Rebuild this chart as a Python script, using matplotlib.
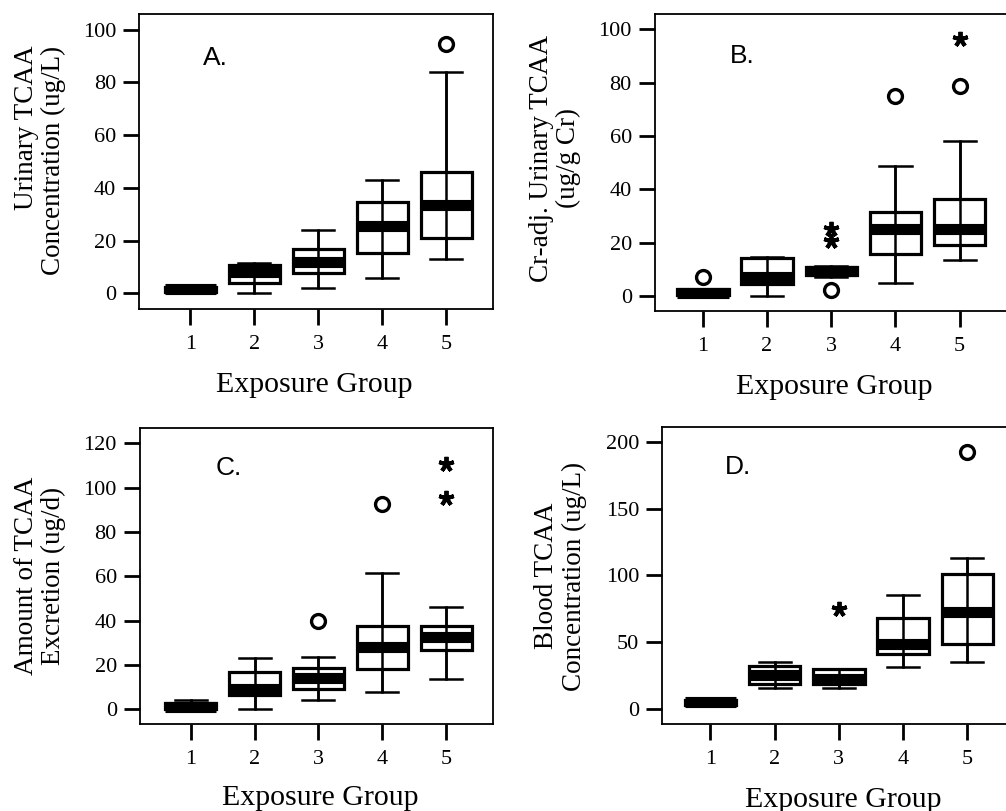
import matplotlib
matplotlib.use('Agg')
import matplotlib.pyplot as plt

plt.rcParams['font.family'] = ['Liberation Serif', 'DejaVu Serif']

groups = [1, 2, 3, 4, 5]

# panel A: urinary TCAA concentration (ug/L)
a_q1 = [0.5, 4, 7.5, 15.3, 21]
a_med = [1.5, 8, 12, 25.5, 33.5]
a_q3 = [2.5, 10.8, 16.7, 34.5, 46]
a_lo = [0, 0, 2, 5.6, 13]
a_hi = [3, 11.5, 24, 43, 84]
a_circ = [(5, 94.5)]
a_star = []

# panel B: Cr-adjusted urinary TCAA (ug/g Cr)
b_q1 = [0.3, 4.4, 7.8, 15.8, 19.1]
b_med = [1.3, 7, 9.5, 25, 25]
b_q3 = [2.5, 14.3, 11, 31.4, 36.3]
b_lo = [0, 0, 7, 5, 13.5]
b_hi = [2.7, 14.5, 11.2, 48.7, 58.2]
b_circ = [(1, 7), (3, 2.2), (4, 75), (5, 78.7)]
b_star = [(3, 25), (3, 20.7), (5, 96.6)]

# panel C: amount of TCAA excretion (ug/d)
c_q1 = [0.3, 6.5, 9.3, 18.2, 26.8]
c_med = [1.2, 9, 14.3, 28.3, 32.5]
c_q3 = [2.8, 17, 18.8, 37.7, 37.7]
c_lo = [0, 0, 4.2, 7.8, 13.5]
c_hi = [4, 23.3, 23.6, 61.7, 46.2]
c_circ = [(3, 39.8), (4, 92.5)]
c_star = [(5, 110.5), (5, 95.2)]

# panel D: blood TCAA concentration (ug/L)
d_q1 = [3, 18.5, 19, 40.9, 49]
d_med = [5, 25.4, 22.4, 49, 72.3]
d_q3 = [7, 32.4, 30, 67.8, 100.7]
d_lo = [2.5, 16, 16, 31.7, 35]
d_hi = [7.5, 35, 30, 85.3, 112.7]
d_circ = [(5, 192)]
d_star = [(3, 74.8)]

W, H = 1006, 811
fig = plt.figure(figsize=(W / 100, H / 100), dpi=100)


def make_ax(left, top, right, bottom):
    return fig.add_axes([left / W, 1 - bottom / H, (right - left) / W, (bottom - top) / H])


def draw_panel(ax, q1, med, q3, lo, hi, circ, star, xlim, ylim, yticks, letter, lpos):
    stats = []
    for i in range(5):
        stats.append({'q1': q1[i], 'med': med[i], 'q3': q3[i],
                      'whislo': lo[i], 'whishi': hi[i], 'fliers': []})
    ax.bxp(stats, positions=groups, widths=0.8, patch_artist=True,
           showfliers=False,
           boxprops=dict(facecolor='white', edgecolor='black', linewidth=2.3),
           medianprops=dict(color='black', linewidth=8, solid_capstyle='butt'),
           whiskerprops=dict(color='black', linewidth=1.8),
           capprops=dict(color='black', linewidth=1.8),
           capwidths=0.5, zorder=2)
    ax.vlines(groups, lo, hi, color='black', linewidth=1.8, zorder=2.5)
    if circ:
        ax.plot([p[0] for p in circ], [p[1] for p in circ], 'o', ms=10,
                mfc='none', mec='black', mew=2.4, zorder=4, clip_on=False)
    if star:
        ax.plot([p[0] for p in star], [p[1] for p in star], marker=(5, 2, 0),
                ls='none', ms=11, mec='black', mew=2.8, zorder=4, clip_on=False)
    ax.set_xlim(*xlim)
    ax.set_ylim(*ylim)
    ax.set_xticks(groups)
    ax.set_xticklabels([str(g) for g in groups])
    ax.set_yticks(yticks)
    ax.tick_params(direction='out', length=11.5, width=2, labelsize=16, pad=5)
    ax.tick_params(axis='x', pad=7)
    for s in ax.spines.values():
        s.set_linewidth(1.3)
    ax.text(lpos[0], lpos[1], letter, ha='left', va='center', fontsize=19,
            family='Liberation Sans')


axA = make_ax(139, 14, 493, 309)
draw_panel(axA, a_q1, a_med, a_q3, a_lo, a_hi, a_circ, a_star,
           (0.2, 5.73), (-6, 106), [0, 20, 40, 60, 80, 100], 'A.', (1.2, 89.4))
axB = make_ax(654.7, 14, 1007.8, 311)
draw_panel(axB, b_q1, b_med, b_q3, b_lo, b_hi, b_circ, b_star,
           (0.25, 5.75), (-5.6, 105.8), [0, 20, 40, 60, 80, 100], 'B.', (1.42, 90))
axC = make_ax(139.7, 427.7, 492.7, 724)
draw_panel(axC, c_q1, c_med, c_q3, c_lo, c_hi, c_circ, c_star,
           (0.2, 5.73), (-6.6, 127), [0, 20, 40, 60, 80, 100, 120], 'C.', (1.39, 109))
axD = make_ax(662.3, 426.7, 1015.4, 724)
draw_panel(axD, d_q1, d_med, d_q3, d_lo, d_hi, d_circ, d_star,
           (0.25, 5.75), (-11.2, 211.2), [0, 50, 100, 150, 200], 'D.', (1.22, 180.7))

# y axis titles
fig.text(40 / W, 1 - 160 / H, 'Urinary TCAA\nConcentration (ug/L)', rotation=90,
         ha='center', va='center', fontsize=19.5, multialignment='right', linespacing=1.1)
fig.text(555 / W, 1 - 158.5 / H, 'Cr-adj. Urinary TCAA\n(ug/g Cr)', rotation=90,
         ha='center', va='center', fontsize=19.5, multialignment='center', linespacing=1.1)
fig.text(40 / W, 1 - 576 / H, 'Amount of TCAA\nExcretion (ug/d)', rotation=90,
         ha='center', va='center', fontsize=19.5, multialignment='center', linespacing=1.1)
fig.text(560.5 / W, 1 - 576 / H, 'Blood TCAA\nConcentration (ug/L)', rotation=90,
         ha='center', va='center', fontsize=19.5, multialignment='center', linespacing=1.1)

# x axis titles
fig.text(314 / W, 1 - 385 / H, 'Exposure Group', ha='center', va='center', fontsize=21.5)
fig.text(834.7 / W, 1 - 386.7 / H, 'Exposure Group', ha='center', va='center', fontsize=21.5)
fig.text(320 / W, 1 - 798 / H, 'Exposure Group', ha='center', va='center', fontsize=21.5)
fig.text(843 / W, 1 - 800 / H, 'Exposure Group', ha='center', va='center', fontsize=21.5)

fig.savefig('out.png', dpi=100)
